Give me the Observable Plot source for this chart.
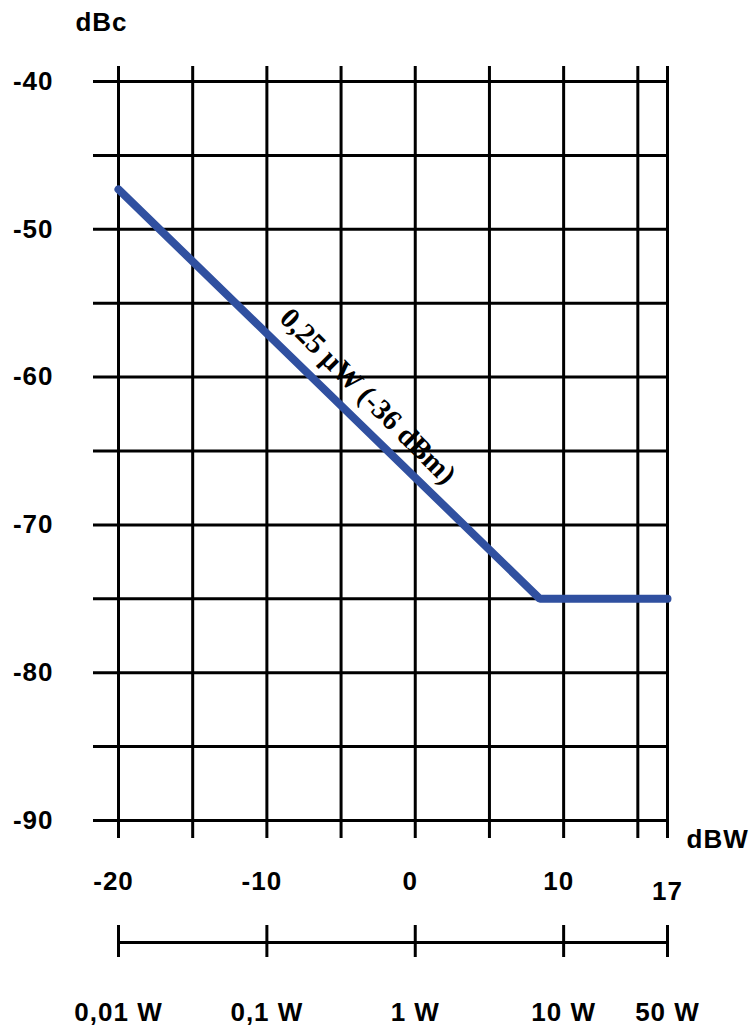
<!DOCTYPE html>
<html>
<head>
<meta charset="utf-8">
<script src="https://cdn.jsdelivr.net/npm/d3@7"></script>
<script src="https://cdn.jsdelivr.net/npm/@observablehq/plot@0.6"></script>
<style>
  html, body { margin: 0; padding: 0; background: #fff; }
</style>
</head>
<body>
<div id="chart"></div>
<script>
// --- data ---
const xDomain = [-20, 17];              // dBW
const yDomain = [-90, -40];             // dBc
const xGrid = [-20, -15, -10, -5, 0, 5, 10, 15, 17];
const yGrid = [-40, -45, -50, -55, -60, -65, -70, -75, -80, -85, -90];
const yTickValues = [-40, -50, -60, -70, -80, -90];
const xTickValues = [-20, -10, 0, 10];
const xEndTick = [17];
const wTicks = [-20, -10, 0, 10, 17];
const wLabels = ["0,01 W", "0,1 W", "1 W", "10 W", "50 W"];
const limitX = [-20, 8.4, 17];
const limitY = [-47.3, -75, -75];
const lineLabel = "0,25 μW (-36 dBm)";
const lineLabelX = -4.4;

const series = limitX.map((x, i) => ({x, y: limitY[i]}));
// label sits on the sloped segment of the line
const labelY = limitY[0] + (limitY[1] - limitY[0]) * (lineLabelX - limitX[0]) / (limitX[1] - limitX[0]);

const font = "Liberation Sans, Arial, Helvetica, sans-serif";
const blue = "#3050a0";
const txt = {fontSize: 26, fontWeight: "bold", fill: "#000", lineAnchor: "middle"};

const chart = Plot.plot({
  width: 755,
  height: 1030,
  marginTop: 81,
  marginBottom: 210,
  marginLeft: 118,
  marginRight: 88,
  x: {domain: xDomain, axis: null},
  y: {domain: yDomain, axis: null},
  style: {fontFamily: font, background: "#fff"},
  marks: [
    // grid
    Plot.ruleX(xGrid, {x: d => d, stroke: "#000", strokeWidth: 3, insetTop: -15, insetBottom: -18}),
    Plot.ruleY(yGrid, {y: d => d, stroke: "#000", strokeWidth: 3, insetLeft: -25}),
    // limit line
    Plot.line(series, {x: "x", y: "y", stroke: blue, strokeWidth: 8, strokeLinecap: "round", strokeLinejoin: "miter"}),
    Plot.text([lineLabel], {
      x: lineLabelX, y: labelY, text: d => d, rotate: 45, dx: 18, dy: -18,
      fontFamily: "Liberation Serif, Times New Roman, serif", fontSize: 29, fontWeight: "bold", fill: "#000",
      textAnchor: "middle", lineAnchor: "middle"
    }),
    // y labels
    Plot.text(yTickValues, {y: d => d, frameAnchor: "left", textAnchor: "end", dx: -65, text: d => String(d), ...txt}),
    // x labels
    Plot.text(xTickValues, {x: d => d, frameAnchor: "bottom", textAnchor: "middle", dy: 61, dx: -5, text: d => String(d), ...txt}),
    Plot.text(xEndTick, {x: d => d, frameAnchor: "bottom", textAnchor: "middle", dy: 71, text: d => String(d), ...txt}),
    // axis titles
    Plot.text(["dBc"], {frameAnchor: "top-left", textAnchor: "middle", dx: -17, dy: -59, text: d => d, ...txt}),
    Plot.text(["dBW"], {frameAnchor: "bottom-right", textAnchor: "start", dx: 19, dy: 19, text: d => d, ...txt}),
    // secondary W axis
    Plot.ruleY([yDomain[0]], {y: d => d, x1: xDomain[0], x2: xDomain[1], dy: 122, stroke: "#000", strokeWidth: 3}),
    Plot.ruleX(wTicks, {x: d => d, insetTop: 844, insetBottom: -137, stroke: "#000", strokeWidth: 3}),
    Plot.text(wTicks, {x: d => d, frameAnchor: "bottom", textAnchor: "middle", dy: 192, text: (d, i) => wLabels[i], ...txt})
  ]
});
// slightly wider tracking for the sans-serif labels, as in the original
d3.select(chart).selectAll("g[font-weight='bold']").filter(function () {
  return !this.hasAttribute("font-family") || !/Serif/.test(this.getAttribute("font-family"));
}).attr("letter-spacing", "1px");
document.getElementById("chart").appendChild(chart);
</script>
</body>
</html>
